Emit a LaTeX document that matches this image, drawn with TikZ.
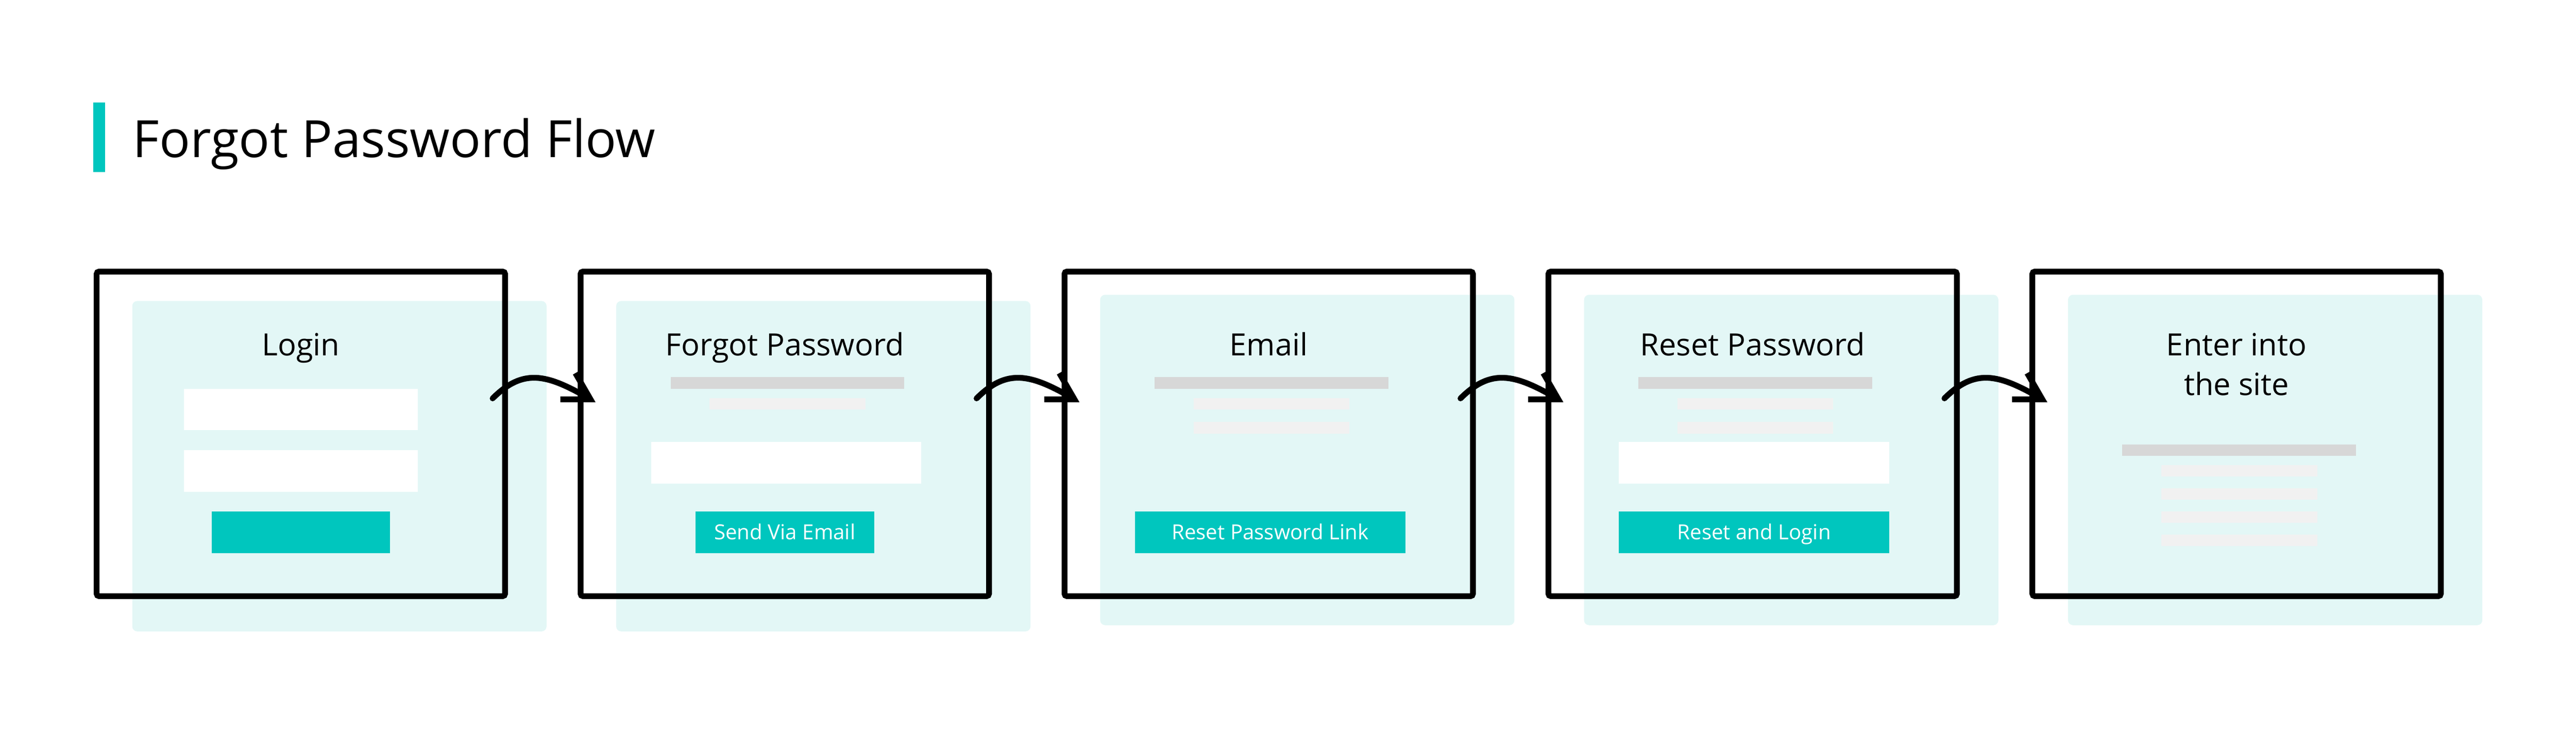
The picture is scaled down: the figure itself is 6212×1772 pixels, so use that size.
\documentclass[tikz,border=0pt]{standalone}
\usepackage{fontspec}
\setmainfont{Open Sans}
\usetikzlibrary{arrows.meta}
\definecolor{brand}{HTML}{00C6BE}
\definecolor{cardbg}{HTML}{E3F7F6}
\definecolor{bardark}{HTML}{D7D7D7}
\definecolor{barlight}{HTML}{F1F1F1}
\begin{document}
\begin{tikzpicture}[x=0.1pt,y=-0.1pt,
  frame/.style={draw,line width=1.4pt,rounded corners=0.6pt,minimum width=98.5pt,minimum height=78.3pt,inner sep=0pt},
  card/.style={fill=cardbg,rounded corners=1.2pt},
  field/.style={fill=white},
  bar/.style={fill=bardark},
  lbar/.style={fill=barlight},
  btn/.style={fill=brand,text=white,font=\fontsize{5pt}{6pt}\selectfont,inner sep=0pt,minimum height=10pt,text height=3.5pt,text depth=0pt},
  ttl/.style={anchor=base,inner sep=0pt,font=\fontsize{7.4pt}{9pt}\selectfont},
  flow/.style={line width=1.4pt,line cap=round,-{Straight Barb[length=6.3pt,width=7.3pt,line join=miter]}}]
\useasboundingbox (0,0) rectangle (6212,1772);
\fill[brand] (225,247) rectangle (253,415);
\node[anchor=base west,inner sep=0pt,font=\fontsize{12.4pt}{15pt}\selectfont] (head) at (318,379) {Forgot Password Flow};
\fill[card] (319,726) rectangle (1318,1523);
\fill[card] (1486,726) rectangle (2485,1523);
\fill[card] (2653,711) rectangle (3652,1508);
\fill[card] (3820,711) rectangle (4819,1508);
\fill[card] (4987,711) rectangle (5986,1508);
\node[ttl] (t1) at (725.5,858) {Login};
\fill[field] (443,938) rectangle (1008,1038);
\fill[field] (443,1086) rectangle (1008,1186);
\node[btn,minimum width=43.1pt] (b1) at (725.5,1284) {};
\node[ttl] (t2) at (1892.5,858) {Forgot Password};
\fill[bar] (1617,910) rectangle (2181,938);
\fill[lbar] (1711,960) rectangle (2087,988);
\fill[field] (1570,1066) rectangle (2222,1166);
\node[btn,minimum width=43.1pt] (b2) at (1892.5,1284) {Send Via Email};
\node[ttl] (t3) at (3059.5,858) {Email};
\fill[bar] (2784,910) rectangle (3348,938);
\fill[lbar] (2878,960) rectangle (3254,988);
\fill[lbar] (2878,1017.5) rectangle (3254,1045.5);
\node[btn,minimum width=65.2pt] (b3) at (3063,1284) {Reset Password Link};
\node[ttl] (t4) at (4226.5,858) {Reset Password};
\fill[bar] (3951,910) rectangle (4515,938);
\fill[lbar] (4045,960) rectangle (4421,988);
\fill[lbar] (4045,1017.5) rectangle (4421,1045.5);
\fill[field] (3904,1066) rectangle (4556,1166);
\node[btn,minimum width=65.2pt] (b4) at (4230,1284) {Reset and Login};
\node[ttl] (t5a) at (5393.5,858) {Enter into};
\node[ttl] (t5b) at (5393.5,953) {the site};
\fill[bar] (5118,1072) rectangle (5682,1100);
\fill[lbar] (5212,1122) rectangle (5588,1149.5);
\fill[lbar] (5212,1178) rectangle (5588,1205.5);
\fill[lbar] (5212,1234) rectangle (5588,1261.5);
\fill[lbar] (5212,1290) rectangle (5588,1317.5);
\node[frame] (f1) at (725.5,1046.5) {};
\node[frame] (f2) at (1892.5,1046.5) {};
\node[frame] (f3) at (3059.5,1046.5) {};
\node[frame] (f4) at (4226.5,1046.5) {};
\node[frame] (f5) at (5393.5,1046.5) {};
\draw[flow] ([xshift=-3.7pt,yshift=8.55pt]f1.east) .. controls +(73,-73) and +(-118,-68) .. ([xshift=4.3pt,yshift=7.65pt]f2.west);
\draw[flow] ([xshift=-3.7pt,yshift=8.55pt]f2.east) .. controls +(73,-73) and +(-118,-68) .. ([xshift=4.3pt,yshift=7.65pt]f3.west);
\draw[flow] ([xshift=-3.7pt,yshift=8.55pt]f3.east) .. controls +(73,-73) and +(-118,-68) .. ([xshift=4.3pt,yshift=7.65pt]f4.west);
\draw[flow] ([xshift=-3.7pt,yshift=8.55pt]f4.east) .. controls +(73,-73) and +(-118,-68) .. ([xshift=4.3pt,yshift=7.65pt]f5.west);
\end{tikzpicture}
\end{document}
